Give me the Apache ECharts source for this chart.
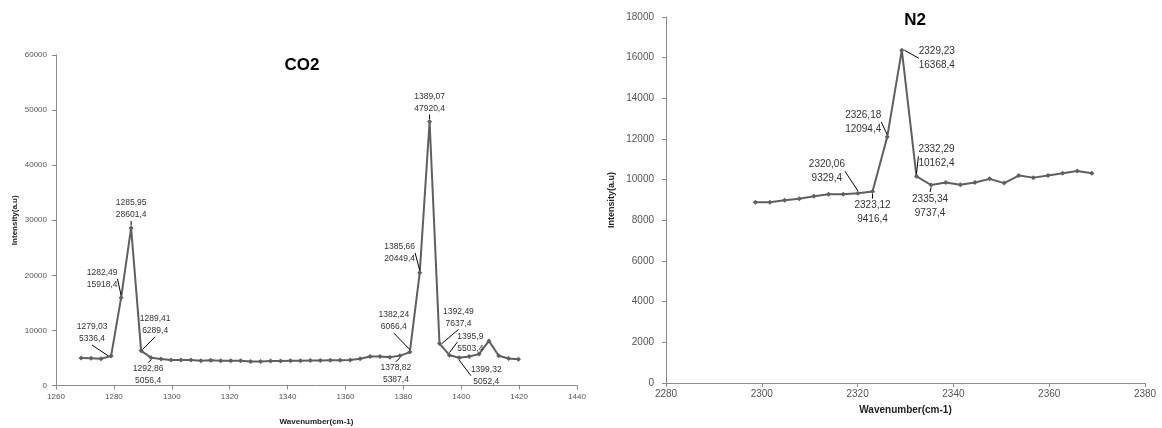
<!DOCTYPE html>
<html>
<head>
<meta charset="utf-8">
<script src="https://cdn.jsdelivr.net/npm/echarts@6/dist/echarts.min.js"></script>
<style>
html,body{margin:0;padding:0;background:#fff;}
#c{width:1162px;height:428px;}
</style>
</head>
<body>
<div id="c"></div>
<script>
// ---------- DATA ----------
const co2Wavenumber = [1268.65, 1272.11, 1275.57, 1279.03, 1282.49, 1285.95, 1289.41, 1292.86,
  1296.30, 1299.74, 1303.18, 1306.61, 1310.05, 1313.49, 1316.93, 1320.37, 1323.81, 1327.24,
  1330.68, 1334.12, 1337.56, 1341.00, 1344.44, 1347.87, 1351.31, 1354.75, 1358.19, 1361.63,
  1365.07, 1368.50, 1371.94, 1375.38, 1378.82, 1382.24, 1385.66, 1389.07, 1392.49, 1395.9,
  1399.32, 1402.73, 1406.14, 1409.55, 1412.96, 1416.37, 1419.78];
const co2Intensity = [5000, 4950, 4850, 5336.4, 15918.4, 28601.4, 6289.4, 5056.4,
  4800, 4650, 4650, 4620, 4500, 4600, 4500, 4500, 4480, 4350,
  4350, 4450, 4450, 4480, 4500, 4550, 4520, 4600, 4600, 4620,
  4850, 5250, 5250, 5150, 5387.4, 6066.4, 20449.4, 47920.4, 7637.4, 5503.4,
  5052.4, 5250, 5700, 8100, 5400, 4900, 4750];
const co2Labelled = [1279.03, 1282.49, 1285.95, 1289.41, 1292.86, 1378.82, 1382.24, 1385.66,
  1389.07, 1392.49, 1395.9, 1399.32];

const n2Wavenumber = [2298.64, 2301.70, 2304.76, 2307.82, 2310.88, 2313.94, 2317.00, 2320.06,
  2323.12, 2326.18, 2329.23, 2332.29, 2335.34, 2338.40, 2341.45, 2344.50, 2347.55, 2350.60,
  2353.65, 2356.70, 2359.75, 2362.80, 2365.85, 2368.90];
const n2Intensity = [8890, 8890, 8990, 9060, 9180, 9280, 9280, 9329.4,
  9416.4, 12094.4, 16368.4, 10162.4, 9737.4, 9860, 9745, 9860, 10040, 9830,
  10200, 10100, 10200, 10320, 10430, 10320];
const n2Labelled = [2320.06, 2323.12, 2326.18, 2329.23, 2332.29, 2335.34];

const co2Ticks = {xMin: 1260, xMax: 1440, xStep: 20, yMin: 0, yMax: 60000, yStep: 10000};
const n2Ticks = {xMin: 2280, xMax: 2380, xStep: 20, yMin: 0, yMax: 18000, yStep: 2000};

// ---------- LAYOUT (label offsets from point, px) ----------
const co2LabelOffset = {
  '1279.03': [-19, -23], '1282.49': [-19, -19], '1285.95': [0, -19], '1289.41': [14, -26],
  '1292.86': [-3, 17], '1378.82': [-4, 18], '1382.24': [-16, -31], '1385.66': [-20, -20],
  '1389.07': [0, -19], '1392.49': [19, -26], '1395.9': [21, -13], '1399.32': [27, 18]
};
const n2LabelOffset = {
  '2320.06': [-31, -22], '2323.12': [0, 21], '2326.18': [-24, -15],
  '2329.23': [35, 8], '2332.29': [20, -20], '2335.34': [-1, 21]
};

const fmt = v => String(v).replace('.', ',');
const plain = v => String(v);

function buildData(xs, ys, labelled) {
  return xs.map((x, i) => {
    const item = {value: [x, ys[i]]};
    if (labelled.indexOf(x) >= 0) item.label = {show: true};
    return item;
  });
}

const FONT = "'Liberation Sans', Arial, sans-serif";
const lineColor = '#5f5f5f';
const axisGray = '#8a8a8a';

function makeLayout(offsets, seriesXs) {
  return function (params) {
    const x = seriesXs[params.dataIndex];
    const off = offsets[String(x)] || [0, -15];
    const r = params.rect;
    return {
      x: r.x + r.width / 2 + off[0],
      y: r.y + r.height / 2 + off[1],
      align: 'center',
      verticalAlign: 'middle'
    };
  };
}

const chart = echarts.init(document.getElementById('c'), null, {renderer: 'canvas'});
chart.setOption({
  backgroundColor: '#fff',
  animation: false,
  title: [
    {text: 'CO2', left: 297, top: 52, textAlign: 'center',
     textStyle: {fontFamily: "'Liberation Sans Narrow', " + FONT, fontWeight: 'bold', fontSize: 17, color: '#000'}},
    {text: 'N2', left: 910, top: 7, textAlign: 'center',
     textStyle: {fontFamily: FONT, fontWeight: 'bold', fontSize: 17, color: '#000'}}
  ],
  grid: [
    {left: 56, right: 585, top: 55, bottom: 42.5, containLabel: false, outerBoundsMode: 'none'},
    {left: 666, right: 17, top: 17, bottom: 45, containLabel: false, outerBoundsMode: 'none'}
  ],
  xAxis: [
    {gridIndex: 0, type: 'value', min: co2Ticks.xMin, max: co2Ticks.xMax, interval: co2Ticks.xStep,
     name: 'Wavenumber(cm-1)', nameLocation: 'middle', nameGap: 32,
     nameTextStyle: {fontFamily: FONT, fontWeight: 'bold', fontSize: 8, color: '#222'},
     axisLine: {lineStyle: {color: axisGray}}, axisTick: {length: 4, lineStyle: {color: axisGray}},
     axisLabel: {fontFamily: FONT, fontSize: 8, color: '#555', margin: 7, formatter: plain},
     splitLine: {show: false}},
    {gridIndex: 1, type: 'value', min: n2Ticks.xMin, max: n2Ticks.xMax, interval: n2Ticks.xStep,
     name: 'Wavenumber(cm-1)', nameLocation: 'middle', nameGap: 22,
     nameTextStyle: {fontFamily: FONT, fontWeight: 'bold', fontSize: 10, color: '#222'},
     axisLine: {lineStyle: {color: axisGray}}, axisTick: {length: 4, lineStyle: {color: axisGray}},
     axisLabel: {fontFamily: FONT, fontSize: 10, color: '#555', margin: 6, formatter: plain},
     splitLine: {show: false}}
  ],
  yAxis: [
    {gridIndex: 0, type: 'value', min: co2Ticks.yMin, max: co2Ticks.yMax, interval: co2Ticks.yStep,
     name: 'Intensity(a.u)', nameLocation: 'middle', nameGap: 37,
     nameTextStyle: {fontFamily: FONT, fontWeight: 'bold', fontSize: 8, color: '#222'},
     axisLine: {show: true, lineStyle: {color: axisGray}}, axisTick: {show: true, length: 4, lineStyle: {color: axisGray}},
     axisLabel: {fontFamily: FONT, fontSize: 8, color: '#555', margin: 9, formatter: plain},
     splitLine: {show: false}},
    {gridIndex: 1, type: 'value', min: n2Ticks.yMin, max: n2Ticks.yMax, interval: n2Ticks.yStep,
     name: 'Intensity(a.u)', nameLocation: 'middle', nameGap: 50,
     nameTextStyle: {fontFamily: FONT, fontWeight: 'bold', fontSize: 9, color: '#222'},
     axisLine: {show: true, lineStyle: {color: axisGray}}, axisTick: {show: true, length: 4, lineStyle: {color: axisGray}},
     axisLabel: {fontFamily: FONT, fontSize: 10, color: '#555', margin: 12, formatter: plain},
     splitLine: {show: false}}
  ],
  series: [
    {type: 'line', xAxisIndex: 0, yAxisIndex: 0,
     data: buildData(co2Wavenumber, co2Intensity, co2Labelled),
     showAllSymbol: true, symbol: 'diamond', symbolSize: 5,
     lineStyle: {color: lineColor, width: 2}, itemStyle: {color: lineColor},
     label: {show: false, fontFamily: FONT, fontSize: 8.5, lineHeight: 12, color: '#333',
       formatter: p => fmt(p.value[0]) + '\n' + fmt(p.value[1])},
     labelLine: {show: true, lineStyle: {color: '#000', width: 1}},
     labelLayout: makeLayout(co2LabelOffset, co2Wavenumber),
     emphasis: {disabled: true}},
    {type: 'line', xAxisIndex: 1, yAxisIndex: 1,
     data: buildData(n2Wavenumber, n2Intensity, n2Labelled),
     showAllSymbol: true, symbol: 'diamond', symbolSize: 5,
     lineStyle: {color: lineColor, width: 2}, itemStyle: {color: lineColor},
     label: {show: false, fontFamily: FONT, fontSize: 10, lineHeight: 14, color: '#333',
       formatter: p => fmt(p.value[0]) + '\n' + fmt(p.value[1])},
     labelLine: {show: true, lineStyle: {color: '#000', width: 1}},
     labelLayout: makeLayout(n2LabelOffset, n2Wavenumber),
     emphasis: {disabled: true}}
  ]
});
</script>
</body>
</html>
